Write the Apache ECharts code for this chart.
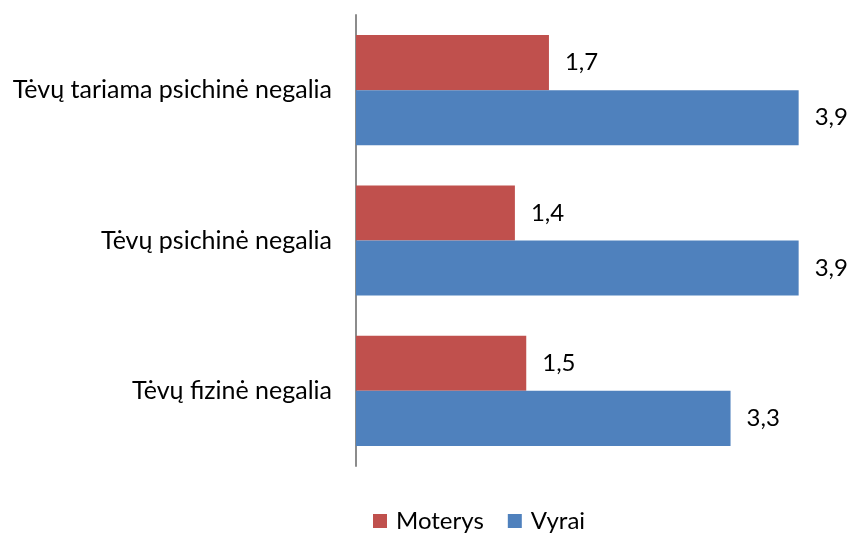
<!DOCTYPE html>
<html>
<head>
<meta charset="utf-8">
<script src="https://cdn.jsdelivr.net/npm/echarts@6/dist/echarts.min.js"></script>
<style>html,body{margin:0;padding:0;background:#fff}#c{width:850px;height:534px}</style>
</head>
<body>
<div id="c"></div>
<script>
const categories = ['Tėvų tariama psichinė negalia', 'Tėvų psichinė negalia', 'Tėvų fizinė negalia'];
const moterys = [1.7, 1.4, 1.5];
const vyrai = [3.9, 3.9, 3.3];
const seriesNames = ['Moterys', 'Vyrai'];

const font = 'Lato, Calibri, "Noto Sans", sans-serif';
const chart = echarts.init(document.getElementById('c'));
const lbl = {
  show: true, position: 'right', distance: 16,
  fontFamily: font, fontSize: 24, color: '#000',
  formatter: p => String(p.value).replace('.', ',')
};
chart.setOption({
  animation: false,
  textStyle: { fontFamily: font },
  grid: { left: 356, right: 40, top: 15, bottom: 68, containLabel: false },
  legend: {
    data: seriesNames, top: 509, left: 373, itemWidth: 14, itemHeight: 14,
    itemGap: 24, icon: 'rect', padding: 0,
    textStyle: { fontFamily: font, fontSize: 24, color: '#000', padding: [0, 0, 0, 4] }
  },
  xAxis: {
    type: 'value', min: 0, max: 4,
    axisLine: { show: false }, axisTick: { show: false },
    axisLabel: { show: false }, splitLine: { show: false }
  },
  yAxis: {
    type: 'category', data: categories, inverse: true,
    axisLine: { show: true, lineStyle: { color: '#8c8c8c', width: 2 } },
    axisTick: { show: false },
    axisLabel: { fontFamily: font, fontSize: 25, color: '#000', margin: 24 }
  },
  series: [
    { name: seriesNames[0], type: 'bar', data: moterys, itemStyle: { color: '#C0504D' },
      barGap: '0%', barCategoryGap: '26.7%', label: lbl },
    { name: seriesNames[1], type: 'bar', data: vyrai, itemStyle: { color: '#4F81BD' },
      barGap: '0%', barCategoryGap: '26.7%', label: lbl }
  ]
});
</script>
</body>
</html>
